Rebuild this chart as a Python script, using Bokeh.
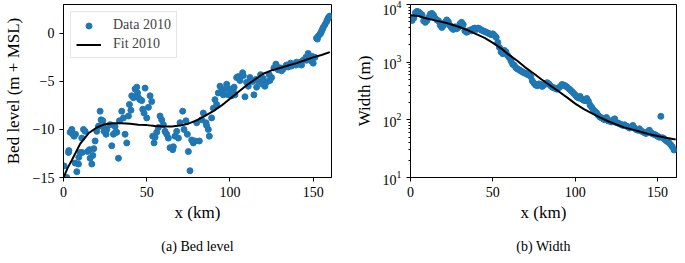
from bokeh.plotting import figure
from bokeh.layouts import row
from bokeh.models import Range1d, FixedTicker, Legend, LegendItem, Title
from bokeh.embed import file_html
from bokeh.resources import INLINE

FONT = "Liberation Serif"
BLUE = "#1f77b4"

# ---------------- data: bed level ----------------
bed_x = [0.4, 2, 3, 4, 5, 5.6, 6.4, 7, 8, 9,
         10, 11, 12, 13, 14.4, 15.6, 16, 17, 17.6, 19,
         20, 21, 22, 22.6, 23.6, 24.4, 25.6, 26, 28, 29,
         30, 31, 32, 33, 33.6, 35, 36, 37, 38, 39,
         39.6, 41, 42, 43, 44, 45, 46, 47.6, 48.4, 49,
         50, 51, 52, 53, 53.6, 54.4, 56, 57, 58, 59,
         60, 62, 63, 64, 65.6, 67, 68, 69, 70, 71.6,
         72.4, 73.6, 74.4, 75, 76, 77, 78, 80, 81.6, 83,
         84, 85.6, 87, 87.6, 89, 90, 91, 92, 94, 95,
         96, 97, 98, 99, 100, 101, 102, 103, 104, 105,
         106, 107.6, 109, 110, 111, 112, 113.6, 114.4, 115.6, 117,
         118.4, 119.6, 121, 122, 123.6, 125, 126.4, 127.6, 129, 130.4,
         132, 133.6, 135, 136.4, 138, 139.6, 141, 142.4, 144, 145.6,
         147, 148, 149, 150, 151, 152, 153, 154, 155, 156,
         157, 158, 159, 160,
         100.5, 102.5, 108, 116, 120, 124, 128, 131, 134, 137,
         140, 143, 146, 149.5, 152.5, 154.5, 155.5, 158.5, 159.5,
         3.2, 7.2, 9.2, 11.2, 18.2, 21.2, 24.2, 31.2, 40.5, 44.5,
         47, 55, 61, 66, 79, 86, 93]
bed_y = [-13.8, -15, -12.4, -10.3, -10, -10.5, -10.7, -13.5, -14.4, -13.6,
         -12.4, -10.9, -10, -10.2, -12.3, -12.1, -13, -13.6, -12.7, -11.2,
         -10.2, -9.7, -8.1, -9, -9.1, -10.2, -10.5, -10, -9.5, -11.7,
         -10.5, -9.7, -10.3, -13, -9.1, -8.1, -8.8, -10.5, -11.4, -8.6,
         -7.4, -6.5, -6.7, -5.8, -5.6, -6.7, -6.9, -7.9, -8.3, -5.7,
         -8.8, -7.7, -6.5, -7.1, -10.7, -11.4, -10.3, -9.8, -8.6, -9,
         -9.5, -10.5, -10.9, -11.9, -12.1, -10.7, -10.2, -10.9, -9.3, -8.1,
         -10, -9.1, -10.5, -12.3, -14.3, -11.1, -11.4, -9.3, -11.2, -9,
         -8.3, -9.3, -10, -10.7, -8.8, -7.8, -6.9, -7.4, -5.5, -6,
         -6.4, -5.8, -5.3, -6.4, -5.8, -6.5, -6, -6.4, -4.6, -4.5,
         -4.9, -4.1, -6.6, -5.1, -5.5, -4.6, -5, -6.4, -4.8, -5,
         -4.3, -5.3, -5.5, -5.1, -4.3, -4.6, -3.6, -3.2, -3.8, -3.6,
         -3.7, -3.4, -3.5, -3.1, -3.2, -3.3, -3.2, -3, -2.8, -2.5,
         -2.1, -2.7, -2.9, -3.1, -2.5, -0.5, -0.3, -0.1, 0.2, 0.6,
         0.9, 1.2, 1.6, 1.8,
         -6.2, -5.6, -4.4, -5.6, -4.7, -4.9, -3.4, -3.9, -3.3, -3.4,
         -3.0, -3.3, -2.8, -2.4, -0.6, 0.0, 0.4, 1.4, 1.7,
         -12.2, -10.5, -12.9, -12.4, -12.0, -9.65, -9.8, -10.3, -8.0, -6.2,
         -7.0, -10.8, -10.2, -11.8, -11.2, -9.6, -6.2]

fit_bed_x = [0, 2.5, 5, 10, 15, 20, 25, 30, 35, 40, 45, 50, 55, 60, 65, 70, 75, 80,
             85, 90, 95, 100, 105, 110, 115, 120, 125, 130, 135, 140, 145, 150, 155, 160]
fit_bed_y = [-15, -14.0, -13.2, -11.5, -10.4, -9.8, -9.45, -9.35, -9.35, -9.4, -9.5, -9.55,
             -9.65, -9.7, -9.7, -9.6, -9.4, -9.06, -8.6, -8.1, -7.5, -6.8, -6.1, -5.4,
             -4.8, -4.2, -3.85, -3.6, -3.35, -3.1, -2.8, -2.5, -2.25, -1.95]

# ---------------- data: width ----------------
wid_x = [0, 1, 2, 3, 4, 5, 6, 7, 8, 9,
         10, 11, 12, 13, 14, 15, 16, 17, 18, 19,
         20, 21, 22, 23, 24, 25, 26, 27, 28, 29,
         30, 31, 32, 33, 34, 35, 36, 37, 38, 39,
         40, 41, 42, 43, 44, 45, 46, 47, 48, 49,
         50, 51, 52, 53, 54, 55, 56, 57, 58, 59,
         60, 61, 62, 63, 64, 65, 66, 67, 68, 69,
         70, 71, 72, 73, 74, 75, 76, 77, 78, 79,
         80, 81, 82, 83, 84, 85, 86, 87, 88, 89,
         90, 91, 92, 93, 94, 95, 96, 97, 98, 99,
         100, 101, 102, 103, 104, 105, 106, 107, 108, 109,
         110, 111, 112, 113, 114, 115, 116, 117, 118, 119,
         120, 121, 122, 123, 124, 125, 126, 127, 128, 129,
         130, 131, 132, 133, 134, 135, 136, 137, 138, 139,
         140, 141, 142, 143, 144, 145, 146, 147, 148, 149,
         150, 151, 152, 153, 154, 155, 156, 157, 158, 159, 160]
wid_y = [5500, 5300, 5800, 7200, 7600, 7400, 7000, 6600, 5200, 4900,
         5300, 6000, 6800, 7000, 6500, 5800, 5400, 5200, 4400, 4000,
         4300, 4900, 5400, 5000, 4300, 3900, 3700, 4100, 3800, 4000,
         4600, 4900, 4500, 3500, 3300, 3400, 3600, 3500, 3800, 3900,
         3700, 3900, 3800, 3600, 3500, 3400, 3300, 3200, 3100, 3000,
         3100, 2900, 2700, 2200, 1800, 1500, 1400, 1600, 1500, 1300,
         1200, 1050, 920, 880, 800, 760, 740, 700, 680, 650,
         640, 610, 600, 560, 470, 430, 400, 390, 420, 410,
         380, 400, 430, 440, 420, 390, 370, 360, 350, 340,
         360, 380, 410, 400, 390, 370, 350, 330, 310, 290,
         270, 250, 240, 255, 230, 220, 215, 235, 210, 180,
         165, 150, 140, 132, 120, 112, 108, 104, 100, 110,
         96, 95, 92, 100, 104, 90, 88, 85, 83, 80,
         82, 78, 76, 72, 75, 80, 72, 68, 66, 70,
         64, 62, 60, 58, 62, 66, 60, 57, 56, 54,
         52, 50, 115, 49, 47, 44, 42, 40, 37, 34, 30]

fit_wid_x = [0, 5, 8, 15.6, 22, 29.6, 35, 39.6, 45, 50, 55, 59.6, 65, 69.6, 75, 79.6,
             85, 89.6, 95, 100, 105, 109.6, 115, 119.6, 125, 129.6, 135, 139.6, 145, 150,
             155, 161]
fit_wid_y = [6530, 6300, 5890, 5250, 4790, 4070, 3550, 3090, 2630, 2160, 1740, 1350,
             1050, 813, 630, 501, 390, 316, 245, 191, 155, 132, 110, 95.5, 83, 74, 67.6,
             62, 56.2, 52.5, 49, 45.7]

x_ticks = [0, 50, 100, 150]
bed_ticks = [-15, -10, -5, 0]
bed_tick_labels = {-15: "\u221215", -10: "\u221210", -5: "\u22125", 0: "0"}
wid_ticks = [10, 100, 1000, 10000]


def style(p):
    p.outline_line_color = "black"
    p.outline_line_width = 1
    p.outline_line_alpha = 1
    p.xgrid.visible = False
    p.ygrid.visible = False
    p.background_fill_color = "white"
    p.border_fill_color = "white"
    for ax in p.axis:
        ax.major_label_text_font = FONT
        ax.major_label_text_font_size = "14px"
        ax.major_label_text_color = "black"
        ax.axis_label_text_font = FONT
        ax.axis_label_text_font_size = "17px"
        ax.axis_label_text_font_style = "normal"
        ax.axis_label_text_color = "black"
        ax.major_tick_in = 0
        ax.major_tick_out = 4
        ax.minor_tick_in = 0
        ax.minor_tick_out = 2
        ax.axis_line_color = "black"
        ax.major_tick_line_color = "black"
        ax.minor_tick_line_color = "black"
        ax.major_label_standoff = 5


# ---------------- left figure ----------------
p1 = figure(frame_width=268, frame_height=173,
            x_range=Range1d(0, 161), y_range=Range1d(-15, 3),
            output_backend="svg", toolbar_location=None,
            min_border_left=55, min_border_right=14, min_border_top=4,
            min_border_bottom=70)
style(p1)
p1.xaxis.ticker = FixedTicker(ticks=x_ticks)
p1.yaxis.ticker = FixedTicker(ticks=bed_ticks)
p1.yaxis.major_label_overrides = bed_tick_labels
p1.xaxis.axis_label = "x (km)"
p1.yaxis.axis_label = "Bed level (m + MSL)"
p1.xaxis.axis_label_standoff = 3
p1.yaxis.axis_label_standoff = 7

r1 = p1.scatter(bed_x, bed_y, size=6, fill_color=BLUE, line_color=BLUE)
r2 = p1.line(fit_bed_x, fit_bed_y, line_color="black", line_width=2)

legend = Legend(items=[LegendItem(label="Data 2010", renderers=[r1]),
                       LegendItem(label="Fit 2010", renderers=[r2])],
                location="top_left")
legend.label_text_font = FONT
legend.label_text_font_size = "14px"
legend.border_line_color = "#cccccc"
legend.border_line_width = 1
legend.background_fill_alpha = 0.8
legend.glyph_width = 25
legend.glyph_height = 15
legend.label_height = 15
legend.label_standoff = 12
legend.padding = 5
legend.spacing = 3
legend.margin = 7
p1.add_layout(legend)

cap1 = Title(text="(a) Bed level", align="center", text_font=FONT,
             text_font_size="14px", text_font_style="normal", text_color="black",
             standoff=25)
p1.add_layout(cap1, "below")

# ---------------- right figure ----------------
p2 = figure(frame_width=266, frame_height=173,
            x_range=Range1d(0, 161.5), y_range=Range1d(10, 10000),
            y_axis_type="log",
            output_backend="svg", toolbar_location=None,
            min_border_left=65, min_border_right=1, min_border_top=4,
            min_border_bottom=70)
style(p2)
p2.xaxis.ticker = FixedTicker(ticks=x_ticks)
minor = [m * d for d in (10, 100, 1000) for m in range(2, 10)]
p2.yaxis.ticker = FixedTicker(ticks=wid_ticks, minor_ticks=minor)
p2.xaxis.axis_label = "x (km)"
p2.yaxis.axis_label = "Width (m)"
p2.xaxis.axis_label_standoff = 3
p2.yaxis.axis_label_standoff = 6

p2.scatter(wid_x, wid_y, size=6, fill_color=BLUE, line_color=BLUE)
p2.line(fit_wid_x, fit_wid_y, line_color="black", line_width=2)

cap2 = Title(text="(b) Width", align="center", text_font=FONT,
             text_font_size="14px", text_font_style="normal", text_color="black",
             standoff=25)
p2.add_layout(cap2, "below")

layout = row(p1, p2)
open("out.html", "w").write(file_html(layout, INLINE))
